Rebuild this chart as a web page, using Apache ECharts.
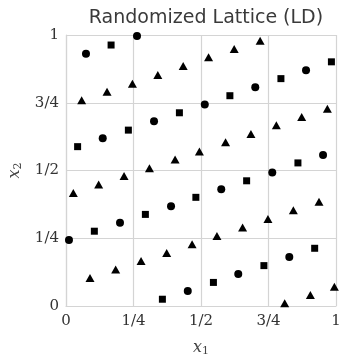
<!DOCTYPE html>
<html>
<head>
<meta charset="utf-8">
<script src="https://cdn.jsdelivr.net/npm/echarts@6/dist/echarts.min.js"></script>
<style>html,body{margin:0;padding:0;background:#fff;}#c{width:339px;height:357px;}</style>
</head>
<body>
<div id="c"></div>
<script>
var tickValues = [0, 0.25, 0.5, 0.75, 1];
var tickLabels = ['0', '1/4', '1/2', '3/4', '1'];

var circleX = [0.263, 0.074, 0.326, 0.136, 0.889, 0.701, 0.514, 0.952, 0.389, 0.200, 0.011, 0.451, 0.764, 0.575, 0.827, 0.638];
var circleY = [0.996, 0.931, 0.682, 0.619, 0.870, 0.807, 0.744, 0.557, 0.368, 0.307, 0.244, 0.055, 0.493, 0.431, 0.181, 0.118];

var squareX = [0.167, 0.420, 0.231, 0.043, 0.983, 0.796, 0.607, 0.859, 0.481, 0.294, 0.105, 0.357, 0.669, 0.921, 0.733, 0.546];
var squareY = [0.963, 0.713, 0.649, 0.588, 0.901, 0.839, 0.776, 0.528, 0.401, 0.338, 0.276, 0.025, 0.462, 0.213, 0.149, 0.087];

var triangleX = [0.434, 0.340, 0.246, 0.152, 0.058, 0.404, 0.494, 0.719, 0.623, 0.528, 0.968, 0.873, 0.779, 0.685, 0.591, 0.309,
                 0.215, 0.121, 0.027, 0.467, 0.373, 0.278, 0.184, 0.089, 0.937, 0.842, 0.748, 0.654, 0.559, 0.994, 0.905, 0.810];
var triangleY = [0.886, 0.852, 0.820, 0.791, 0.759, 0.541, 0.570, 0.979, 0.948, 0.918, 0.728, 0.697, 0.667, 0.635, 0.604, 0.508,
                 0.480, 0.448, 0.417, 0.228, 0.196, 0.166, 0.135, 0.103, 0.385, 0.353, 0.321, 0.290, 0.258, 0.071, 0.041, 0.010];

function pairs(xs, ys) { return xs.map(function (x, i) { return [x, ys[i]]; }); }
function fmt(v) {
  for (var i = 0; i < tickValues.length; i++) if (Math.abs(v - tickValues[i]) < 1e-9) return tickLabels[i];
  return '';
}

var gridColor = '#d4d4d4';
var serif = 'DejaVu Serif';

function axisCommon(nameRich) {
  return {
    type: 'value', min: 0, max: 1, interval: 0.25,
    axisLine: { show: true, lineStyle: { color: gridColor, width: 1.2 } },
    axisTick: { show: false },
    splitLine: { show: true, lineStyle: { color: gridColor, width: 1.2 } },
    axisLabel: { formatter: fmt, color: '#333', fontFamily: serif, fontSize: 15 },
    nameLocation: 'middle',
    nameTextStyle: { rich: nameRich }
  };
}
var nameRich = {
  i: { fontFamily: serif, fontStyle: 'italic', fontSize: 16, color: '#444' },
  s: { fontFamily: serif, fontSize: 11, color: '#444', verticalAlign: 'bottom', padding: [8, 0, 0, 0] }
};

var xAxis = axisCommon(nameRich);
xAxis.name = '{i|x}{s|1}';
xAxis.nameGap = 32;
xAxis.axisLabel.margin = 8;
var yAxis = axisCommon(nameRich);
yAxis.name = '{i|x}{s|2}';
yAxis.nameGap = 41;
yAxis.axisLabel.margin = 7;

var markStyle = { color: '#000', opacity: 1 };

var chart = echarts.init(document.getElementById('c'), null, { renderer: 'canvas' });
chart.setOption({
  animation: false,
  backgroundColor: '#fff',
  title: {
    text: 'Randomized Lattice (LD)', left: 201, top: 4, textAlign: 'center',
    textStyle: { fontFamily: 'DejaVu Sans', fontWeight: 'normal', fontSize: 19, color: '#3a3a3a' }
  },
  grid: { left: 66, right: 3, top: 35, bottom: 51, containLabel: false, outerBoundsMode: 'none' },
  xAxis: xAxis,
  yAxis: yAxis,
  series: [
    { type: 'scatter', symbol: 'circle', symbolSize: 8, itemStyle: markStyle, data: pairs(circleX, circleY) },
    { type: 'scatter', symbol: 'rect', symbolSize: 7, itemStyle: markStyle, data: pairs(squareX, squareY) },
    { type: 'scatter', symbol: 'triangle', symbolSize: [9, 8], itemStyle: markStyle, data: pairs(triangleX, triangleY) }
  ]
});
</script>
</body>
</html>
